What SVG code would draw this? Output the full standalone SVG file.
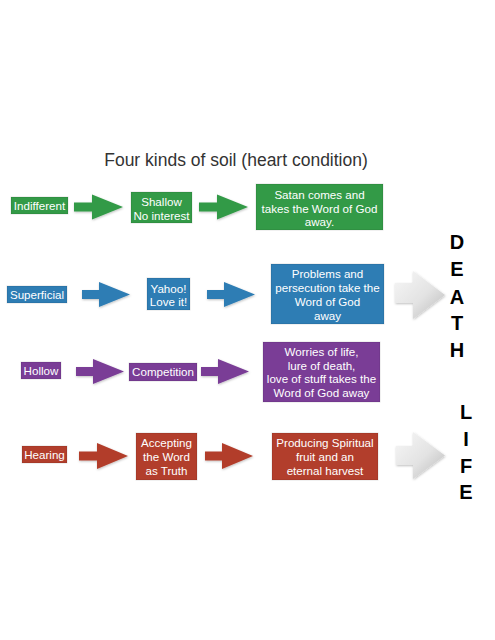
<svg xmlns="http://www.w3.org/2000/svg" width="495" height="640" viewBox="0 0 495 640">
<defs>
<style>
.t{font-family:"Liberation Sans",Arial,sans-serif;font-size:11.6px;fill:#fff;text-anchor:middle}
.title{font-family:"Liberation Sans",Arial,sans-serif;font-size:17.5px;fill:#333;text-anchor:middle}
.big{font-family:"Liberation Sans",Arial,sans-serif;font-size:20px;font-weight:bold;fill:#000;text-anchor:middle}
.g{fill:#339a47}
.b{fill:#2e7db4}
.p{fill:#7a3d96}
.r{fill:#b23e2c}
.box{stroke:rgba(0,0,0,0.12);stroke-width:1}
.ar{filter:url(#sh)}
.gray{fill:url(#gg)}
</style>
<filter id="sh" x="-10%" y="-10%" width="130%" height="140%">
<feDropShadow dx="0.5" dy="1" stdDeviation="0.8" flood-color="#000" flood-opacity="0.25"/>
</filter>
<linearGradient id="gg" x1="0" y1="0" x2="1" y2="1">
<stop offset="0" stop-color="#f7f7f7"/>
<stop offset="0.55" stop-color="#e3e3e3"/>
<stop offset="1" stop-color="#b9b9b9"/>
</linearGradient>
</defs>
<rect width="495" height="640" fill="#fff"/>
<text class="title" x="236" y="166">Four kinds of soil (heart condition)</text>

<g id="connectors">
<polygon class="g ar" points="74,202.5 92,202.5 92,194.5 123,207 92,219.5 92,211.5 74,211.5"/>
<polygon class="g ar" points="199,202.5 217,202.5 217,194.5 248,207 217,219.5 217,211.5 199,211.5"/>
<polygon class="b ar" points="82,290 99,290 99,282 130,294.5 99,307 99,299 82,299"/>
<polygon class="b ar" points="207,290 224,290 224,282 255,294.5 224,307 224,299 207,299"/>
<polygon class="gray ar" points="395,283 413,283 413,271 445,295 413,319 413,303 395,303"/>
<polygon class="p ar" points="76,367 93,367 93,359 124,371.5 93,384 93,376 76,376"/>
<polygon class="p ar" points="201,367 218,367 218,359 249,371.5 218,384 218,376 201,376"/>
<polygon class="r ar" points="79,451.5 97,451.5 97,443 128,456 97,469 97,460.5 79,460.5"/>
<polygon class="r ar" points="205,451.5 222,451.5 222,443 253,456 222,469 222,460.5 205,460.5"/>
<polygon class="gray ar" points="396,446 413,446 413,432 445,455.5 413,479 413,465 396,465"/>
</g>

<g id="indifferent"><rect class="g box" x="11" y="197" width="57" height="17"/><text class="t" x="39.5" y="209.5">Indifferent</text></g>
<g id="shallow"><rect class="g box" x="131" y="192" width="61" height="31"/><text class="t" x="161.5" y="206">Shallow<tspan x="161.5" y="220">No interest</tspan></text></g>
<g id="satan"><rect class="g box" x="256" y="184" width="127" height="46"/><text class="t" x="319.5" y="199">Satan comes and<tspan x="319.5" y="213">takes the Word of God</tspan><tspan x="319.5" y="226">away.</tspan></text></g>

<g id="superficial"><rect class="b box" x="7" y="286" width="60" height="17"/><text class="t" x="37" y="298.5">Superficial</text></g>
<g id="yahoo"><rect class="b box" x="147" y="278" width="43" height="32"/><text class="t" x="168.5" y="292.5">Yahoo!<tspan x="168.5" y="306">Love it!</tspan></text></g>
<g id="problems"><rect class="b box" x="271" y="264" width="113" height="60"/><text class="t" x="327.5" y="278">Problems and<tspan x="327.5" y="292">persecution take the</tspan><tspan x="327.5" y="306">Word of God</tspan><tspan x="327.5" y="319.5">away</tspan></text></g>

<g id="hollow"><rect class="p box" x="21" y="362" width="40" height="17"/><text class="t" x="41" y="374.5">Hollow</text></g>
<g id="competition"><rect class="p box" x="129" y="363" width="68" height="18"/><text class="t" x="163" y="376">Competition</text></g>
<g id="worries"><rect class="p box" x="263" y="342" width="117" height="60"/><text class="t" x="321.5" y="356">Worries of life,<tspan x="321.5" y="369.5">lure of death,</tspan><tspan x="321.5" y="383">love of stuff takes the</tspan><tspan x="321.5" y="396.5">Word of God away</tspan></text></g>

<g id="hearing"><rect class="r box" x="22" y="446" width="45" height="17"/><text class="t" x="44.5" y="458.5">Hearing</text></g>
<g id="accepting"><rect class="r box" x="136" y="433" width="61" height="47"/><text class="t" x="166.5" y="447">Accepting<tspan x="166.5" y="461">the Word</tspan><tspan x="166.5" y="475">as Truth</tspan></text></g>
<g id="producing"><rect class="r box" x="272" y="433" width="106" height="47"/><text class="t" x="325" y="447">Producing Spiritual<tspan x="325" y="461">fruit and an</tspan><tspan x="325" y="475">eternal harvest</tspan></text></g>

<g id="death"><text class="big" x="457" y="249">D</text><text class="big" x="457" y="276">E</text><text class="big" x="457" y="303.5">A</text><text class="big" x="457" y="330">T</text><text class="big" x="457" y="357">H</text></g>
<g id="life"><text class="big" x="466" y="419">L</text><text class="big" x="466" y="446">I</text><text class="big" x="466" y="472.5">F</text><text class="big" x="466" y="499">E</text></g>
</svg>
